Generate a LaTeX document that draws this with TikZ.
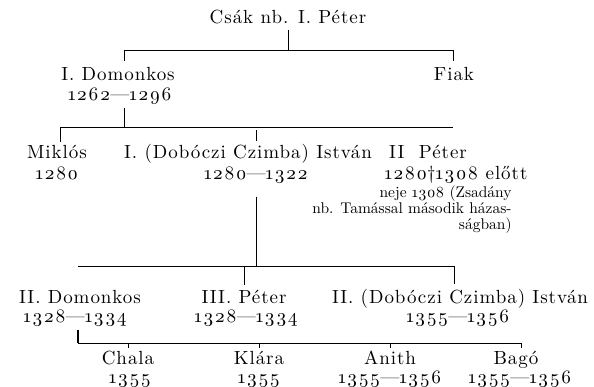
\documentclass[tikz,border=0pt]{standalone}
\usepackage{fontspec}
\usepackage{tikz}
\usetikzlibrary{calc}
\newfontfamily\spacedfont{lmroman10-regular.otf}[LetterSpace=5]
\newfontfamily\plainfont{lmroman10-regular.otf}
\newcommand{\namefont}{\fontsize{19}{20}\spacedfont}
\newcommand{\notefont}{\fontsize{15.5}{16}\plainfont}
\newcommand{\yr}[1]{\oldstylenums{#1}}

\begin{document}
\begin{tikzpicture}[
    x=1pt, y=-1pt,
    line width=0.8pt,
    every node/.style={inner sep=0pt, anchor=base},
    person/.style={font=\namefont},
    note/.style={font=\notefont, align=right, anchor=north east},
    tick/.style={line width=0.5pt}
]
  \useasboundingbox (0,0) rectangle (594,387);

  % nodes
  \node[person] (csak) at (288,24) {Csák nb. I. Péter};

  \node[person] (domonkos)   at (118,81)  {I. Domonkos};
  \node[person] (domonkosyr) at (120,101) {\yr{1262}—\yr{1296}};
  \node[person] (fiak)       at (454,81)  {Fiak};

  \node[person] (miklos)    at (57,159)  {Miklós};
  \node[person] (miklosyr)  at (57,180)  {\yr{1280}};
  \node[person] (istvan)    at (248,159) {I. (Dobóczi Czimba) István};
  \node[person] (istvanyr)  at (256,180) {\yr{1280}—\yr{1322}};
  \node[person] (peter)     at (428,159) {II\ \ Péter};
  \node[person] (peteryr)   at (456,180) {\yr{1280}†\yr{1308} előtt};
  \node[note]   (peternote) at (512,185) {neje \yr{1308} (Zsadány\\nb. Tamással második házas-\\ságban)};

  \node[person] (domonkos2)   at (80,303)  {II. Domonkos};
  \node[person] (domonkos2yr) at (75,322)  {\yr{1328}—\yr{1334}};
  \node[person] (peter3)      at (244,303) {III. Péter};
  \node[person] (peter3yr)    at (246,322) {\yr{1328}—\yr{1334}};
  \node[person] (istvan2)     at (460,303) {II. (Dobóczi Czimba) István};
  \node[person] (istvan2yr)   at (458,322) {\yr{1355}—\yr{1356}};

  \node[person] (chala)   at (128,364) {Chala};
  \node[person] (chalayr) at (130,383) {\yr{1355}};
  \node[person] (klara)   at (259,364) {Klára};
  \node[person] (klarayr) at (259,383) {\yr{1355}};
  \node[person] (anith)   at (390,364) {Anith};
  \node[person] (anithyr) at (390,383) {\yr{1355}—\yr{1356}};
  \node[person] (bago)    at (516,364) {Bagó};
  \node[person] (bagoyr)  at (520,383) {\yr{1355}—\yr{1356}};

  % bars
  \coordinate (bar1l) at (124,50);
  \coordinate (bar1r) at (453,50);
  \coordinate (bar2l) at (60,127);
  \coordinate (bar2r) at (453,127);
  \coordinate (bar3l) at (78,266);
  \coordinate (bar3r) at (454,266);
  \coordinate (bar4l) at (78,343);
  \coordinate (bar4r) at (521,343);
  \draw (bar1l) -- (bar1r);
  \draw (bar2l) -- (bar2r);
  \draw (bar3l) -- (bar3r);
  \draw (bar4l) -- (bar4r);

  % edges
  \draw[shorten <=5pt] (csak.south) -- (csak.south |- bar1l);
  \draw[tick, shorten >=6pt] (bar1l) -- (bar1l |- domonkos.north);
  \draw[tick, shorten >=6pt] (bar1r) -- (bar1r |- fiak.north);

  \draw[shorten <=2pt] (bar1l |- domonkosyr.south) -- (bar1l |- bar2l);
  \draw[tick, shorten >=3pt] (bar2l) -- (bar2l |- miklos.north);
  \draw[tick, shorten <=3pt, shorten >=3pt] (istvanyr.north |- bar2l) -- (istvanyr.north |- istvan.north);

  \draw[tick, shorten <=12pt] (istvanyr.south) -- (istvanyr.south |- bar3l);
  \draw[tick, shorten >=4pt] (peter3.north |- bar3l) -- (peter3.north);
  \draw[tick, shorten >=4pt] (bar3r) -- (bar3r |- istvan2.north);

  \draw[line width=1.2pt, shorten <=3pt] (bar4l |- domonkos2yr.south) -- (bar4l);
  \draw[tick, shorten >=2pt] (chala.north |- bar4l) -- (chala.north);
  \draw[tick, shorten >=2pt] (klara.north |- bar4l) -- (klara.north);
  \draw[tick, shorten >=2pt] (anith.north |- bar4l) -- (anith.north);
  \draw[tick, shorten >=2pt] (bar4r) -- (bar4r |- bago.north);
\end{tikzpicture}
\end{document}
